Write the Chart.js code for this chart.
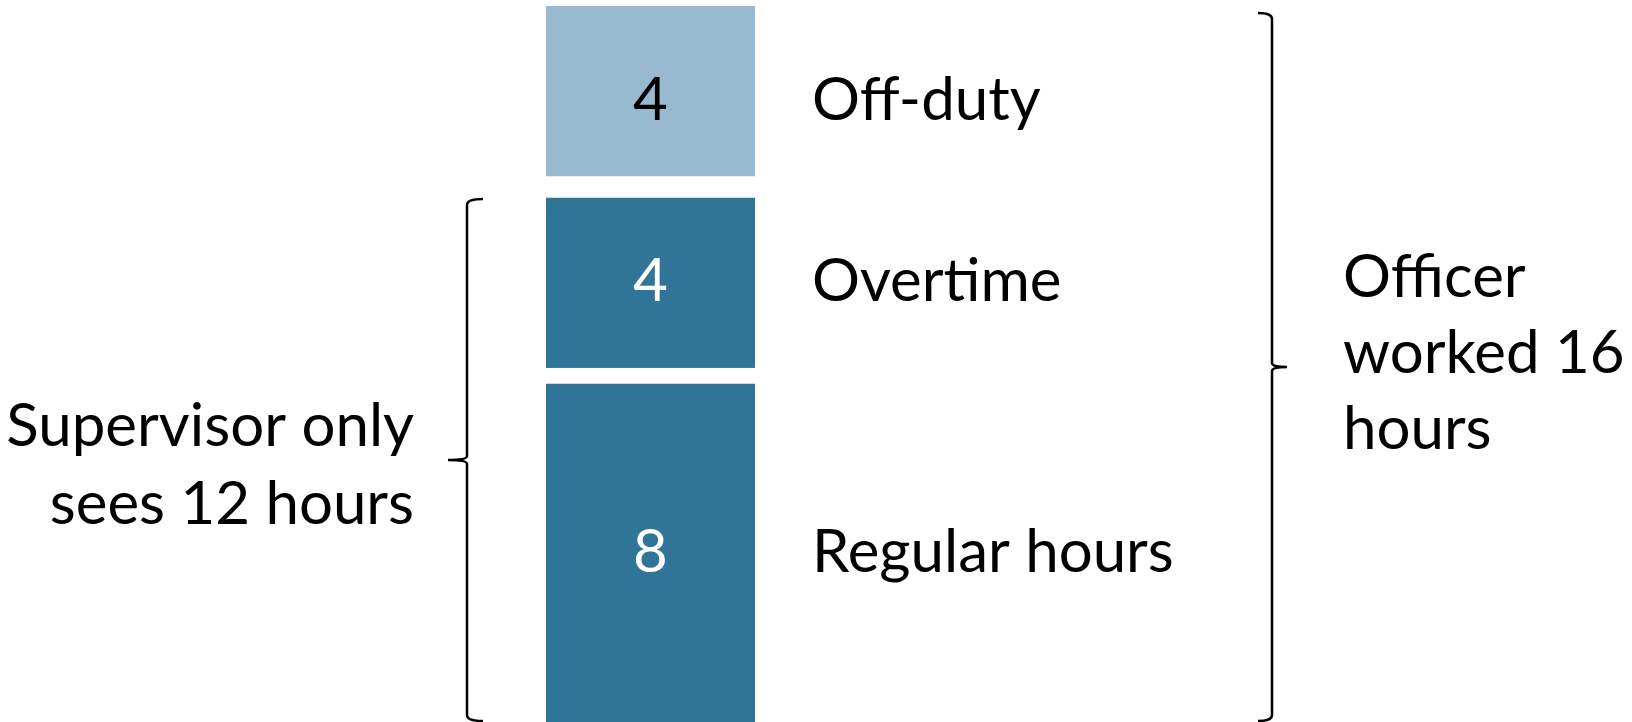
<!DOCTYPE html>
<html>
<head>
<meta charset="utf-8">
<script src="https://cdn.jsdelivr.net/npm/chart.js@4"></script>
<style>
  html, body { margin: 0; padding: 0; background: #fff; overflow: hidden; }
  /* le bas de la barre est coupé comme dans l'original */
  #wrap { width: 1632px; height: 730px; position: relative; }
</style>
</head>
<body>
<div id="wrap"><canvas id="chart"></canvas></div>
<script>
// Données
const categories = ['Heures'];
const segmentNames = ['Regular hours', 'Overtime', 'Off-duty'];
const segmentHours = [8, 4, 4];
const leftNote = ['Supervisor only', 'sees 12 hours'];
const rightNote = ['Officer', 'worked 16', 'hours'];

const FONT = '60px Lato, "Open Sans", sans-serif';
const DARK = '#307497';
const LIGHT = '#98bad1';

// dessine une accolade verticale ; dir = 1 pointe vers la gauche, -1 vers la droite
function drawBrace(ctx, x, top, bottom, hook, tip, dir) {
    const mid = (top + bottom) / 2;
    ctx.beginPath();
    ctx.moveTo(x + hook * dir, top);
    ctx.quadraticCurveTo(x, top, x, top + 6);
    ctx.lineTo(x, mid - 4);
    ctx.quadraticCurveTo(x, mid, x - tip * dir, mid);
    ctx.moveTo(x - tip * dir, mid);
    ctx.quadraticCurveTo(x, mid, x, mid + 4);
    ctx.lineTo(x, bottom - 6);
    ctx.quadraticCurveTo(x, bottom, x + hook * dir, bottom);
    ctx.stroke();
    return mid;
}

const labelsPlugin = {
    id: 'labels',
    afterDatasetsDraw(chart) {
        const ctx = chart.ctx;
        const bars = chart.data.datasets.map((ds, i) => chart.getDatasetMeta(i).data[0]);
        ctx.save();
        ctx.font = FONT;
        ctx.textBaseline = 'middle';

        bars.forEach((bar, i) => {
            const b = bar.getProps(['x', 'y', 'base', 'width'], true);
            const mid = (b.y + b.base) / 2 + 4;
            // valeur dans la barre
            ctx.textAlign = 'center';
            ctx.fillStyle = i === 2 ? '#000' : '#fff';
            ctx.fillText(String(segmentHours[i]), b.x, mid);
            // nom du segment à droite
            ctx.textAlign = 'left';
            ctx.fillStyle = '#000';
            ctx.fillText(segmentNames[i], b.x + b.width / 2 + 57, mid);
        });

        // accolades
        const bottom = window.innerHeight - 1;
        const ys = chart.scales.y;
        ctx.strokeStyle = '#000';
        ctx.lineWidth = 2.5;
        ctx.lineJoin = 'round';

        const leftTop = ys.getPixelForValue(segmentHours[0] + segmentHours[1]) + 12;
        const leftX = bars[0].x - bars[0].width / 2 - 79;
        const lMid = drawBrace(ctx, leftX, leftTop, bottom, 16, 19, 1);

        const total = segmentHours.reduce((a, v) => a + v, 0);
        const rightTop = ys.getPixelForValue(total) + 7;
        const rightX = bars[0].x + bars[0].width / 2 + 517;
        const rMid = drawBrace(ctx, rightX, rightTop, bottom, 14, 15, -1);

        ctx.textBaseline = 'alphabetic';
        ctx.textAlign = 'right';
        leftNote.forEach((t, k) => ctx.fillText(t, leftX - 53, lMid - 14 + k * 78));
        ctx.textAlign = 'left';
        rightNote.forEach((t, k) => ctx.fillText(t, rightX + 71, rMid - 70 + k * 76));
        ctx.restore();
    }
};

const colors = [DARK, DARK, LIGHT];
const borders = [
    { top: 16, bottom: 0, left: 0, right: 0 },
    { top: 11, bottom: 0, left: 0, right: 0 },
    { top: 0, bottom: 11, left: 0, right: 0 }
];

new Chart(document.getElementById('chart'), {
    type: 'bar',
    data: {
        labels: categories,
        datasets: segmentNames.map((name, i) => ({
            label: name,
            data: [segmentHours[i]],
            backgroundColor: colors[i],
            borderColor: '#fff',
            borderWidth: borders[i],
            borderSkipped: false,
            barThickness: 209
        }))
    },
    options: {
        responsive: true,
        maintainAspectRatio: false,
        animation: false,
        layout: { padding: { top: 6, left: 0, right: 331, bottom: 0 } },
        plugins: { legend: { display: false }, tooltip: { enabled: false } },
        scales: {
            x: { stacked: true, display: false },
            y: { stacked: true, display: false, min: 0, max: 16 }
        }
    },
    plugins: [labelsPlugin]
});
</script>
</body>
</html>
